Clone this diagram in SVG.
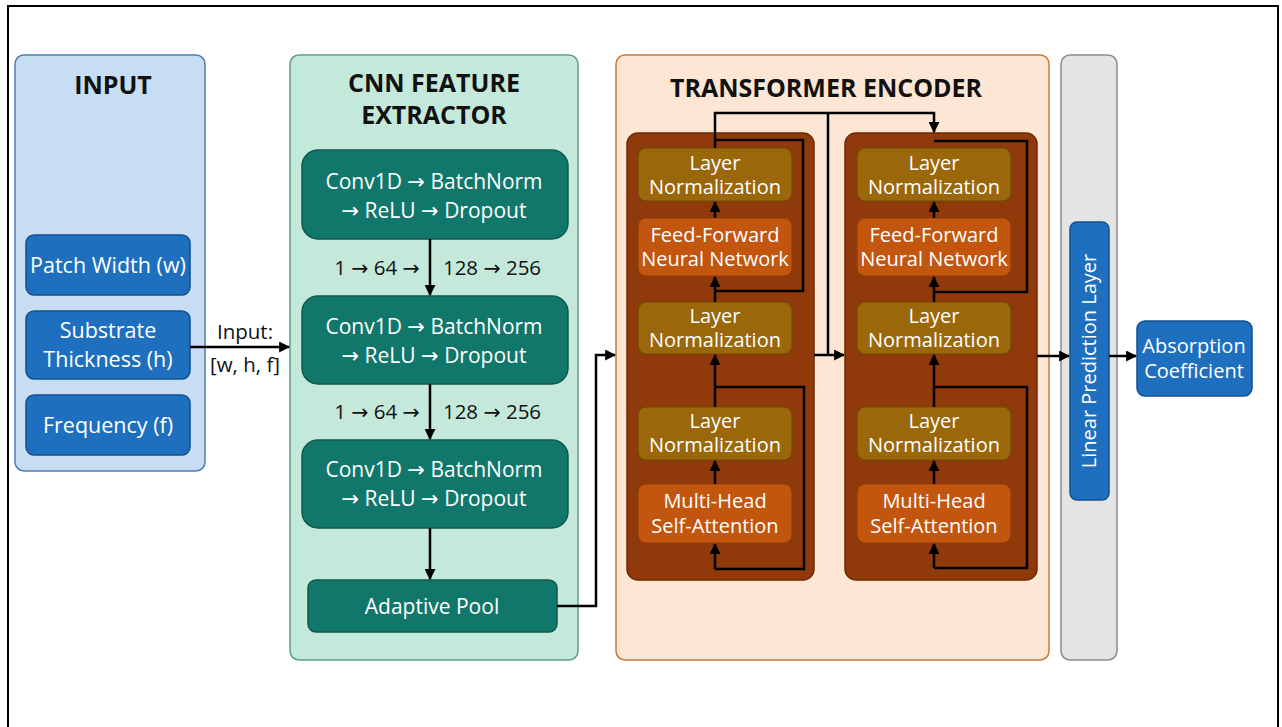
<svg xmlns="http://www.w3.org/2000/svg" width="1282" height="727" viewBox="0 0 1282 727">
<defs>
<marker id="ah" viewBox="0 0 10 10" refX="9" refY="5" markerWidth="11" markerHeight="11" markerUnits="userSpaceOnUse" orient="auto">
<path d="M0,0 L10,5 L0,10 z" fill="#000"/>
</marker>
</defs>
<style>
text{font-family:"Open Sans","Noto Sans","DejaVu Sans",sans-serif;text-anchor:middle;}
.title{font-size:25px;font-weight:bold;fill:#111;}
.lbl{font-size:20px;fill:#fff;}
.lb{font-size:21.5px;fill:#fff;}
.lt{font-size:21px;fill:#fff;}
.blk{font-size:20.5px;fill:#111;}
.panelIn{fill:#c7ddf3;stroke:#4d7db3;stroke-width:1.5;}
.panelCnn{fill:#c4e9db;stroke:#5b9f88;stroke-width:1.5;}
.panelTr{fill:#fde6d3;stroke:#c77a3c;stroke-width:1.5;}
.panelGr{fill:#e4e4e4;stroke:#8c8c8c;stroke-width:1.5;}
.blue{fill:#1f6fbf;stroke:#12508f;stroke-width:1.5;}
.teal{fill:#12776b;stroke:#0b5a50;stroke-width:1.5;}
.enc{fill:#90390a;stroke:#6e2a05;stroke-width:1.5;}
.ln{fill:#9a670b;stroke:#6f4a08;stroke-width:1.2;}
.org{fill:#c2560f;stroke:#8f3c08;stroke-width:1.2;}
.c{fill:none;stroke:#000;stroke-width:2.5;}
</style>
<rect x="8" y="6" width="1270" height="740" fill="#fff" stroke="#000" stroke-width="2"/>

<g id="panel-input">
<rect class="panelIn" x="15" y="55" width="190" height="416" rx="9"/>
<text class="title" x="113" y="94">INPUT</text>
</g>
<g id="node-patch-width">
<rect class="blue" x="26" y="235" width="164" height="60" rx="8"/>
<text class="lb" x="108" y="273">Patch Width (w)</text>
</g>
<g id="node-substrate">
<rect class="blue" x="26" y="311" width="164" height="68" rx="8"/>
<text class="lb" x="108" y="338">Substrate</text>
<text class="lb" x="108" y="367">Thickness (h)</text>
</g>
<g id="node-frequency">
<rect class="blue" x="26" y="395" width="164" height="60" rx="8"/>
<text class="lb" x="108" y="433">Frequency (f)</text>
</g>

<g id="panel-cnn">
<rect class="panelCnn" x="290" y="55" width="288" height="605" rx="9"/>
<text class="title" x="434" y="92">CNN FEATURE</text>
<text class="title" x="434" y="124">EXTRACTOR</text>
</g>
<g id="node-conv1">
<rect class="teal" x="302" y="150" width="266" height="89" rx="16"/>
<text class="lt" x="434" y="189">Conv1D → BatchNorm</text>
<text class="lt" x="434" y="218">→ ReLU → Dropout</text>
</g>
<g id="node-conv2">
<rect class="teal" x="302" y="296" width="266" height="88" rx="16"/>
<text class="lt" x="434" y="334">Conv1D → BatchNorm</text>
<text class="lt" x="434" y="363">→ ReLU → Dropout</text>
</g>
<g id="node-conv3">
<rect class="teal" x="302" y="440" width="266" height="88" rx="16"/>
<text class="lt" x="434" y="477">Conv1D → BatchNorm</text>
<text class="lt" x="434" y="506">→ ReLU → Dropout</text>
</g>
<g id="node-pool">
<rect class="teal" x="308" y="580" width="249" height="52" rx="8"/>
<text class="lt" x="432" y="614">Adaptive Pool</text>
</g>

<g id="panel-transformer">
<rect class="panelTr" x="616" y="55" width="433" height="605" rx="9"/>
<text class="title" x="826" y="97">TRANSFORMER ENCODER</text>
</g>
<g id="encoder-1">
<rect class="enc" x="627" y="133" width="187" height="447" rx="11"/>
</g>
<g id="enc1-ln-top">
<rect class="ln" x="638" y="148" width="154" height="53" rx="8"/>
<text class="lbl" x="715" y="170">Layer</text>
<text class="lbl" x="715" y="194">Normalization</text>
</g>
<g id="enc1-ffn">
<rect class="org" x="638" y="218" width="154" height="58" rx="8"/>
<text class="lbl" x="715" y="242">Feed-Forward</text>
<text class="lbl" x="715" y="266">Neural Network</text>
</g>
<g id="enc1-ln-mid">
<rect class="ln" x="638" y="302" width="154" height="52" rx="8"/>
<text class="lbl" x="715" y="323">Layer</text>
<text class="lbl" x="715" y="347">Normalization</text>
</g>
<g id="enc1-ln-low">
<rect class="ln" x="638" y="407" width="154" height="53" rx="8"/>
<text class="lbl" x="715" y="428">Layer</text>
<text class="lbl" x="715" y="452">Normalization</text>
</g>
<g id="enc1-mhsa">
<rect class="org" x="638" y="484" width="154" height="59" rx="8"/>
<text class="lbl" x="715" y="508">Multi-Head</text>
<text class="lbl" x="715" y="533">Self-Attention</text>
</g>

<g id="encoder-2">
<rect class="enc" x="845" y="133" width="192" height="447" rx="11"/>
</g>
<g id="enc2-ln-top">
<rect class="ln" x="857" y="148" width="154" height="53" rx="8"/>
<text class="lbl" x="934" y="170">Layer</text>
<text class="lbl" x="934" y="194">Normalization</text>
</g>
<g id="enc2-ffn">
<rect class="org" x="857" y="218" width="154" height="58" rx="8"/>
<text class="lbl" x="934" y="242">Feed-Forward</text>
<text class="lbl" x="934" y="266">Neural Network</text>
</g>
<g id="enc2-ln-mid">
<rect class="ln" x="857" y="302" width="154" height="52" rx="8"/>
<text class="lbl" x="934" y="323">Layer</text>
<text class="lbl" x="934" y="347">Normalization</text>
</g>
<g id="enc2-ln-low">
<rect class="ln" x="857" y="407" width="154" height="53" rx="8"/>
<text class="lbl" x="934" y="428">Layer</text>
<text class="lbl" x="934" y="452">Normalization</text>
</g>
<g id="enc2-mhsa">
<rect class="org" x="857" y="484" width="154" height="59" rx="8"/>
<text class="lbl" x="934" y="508">Multi-Head</text>
<text class="lbl" x="934" y="533">Self-Attention</text>
</g>

<g id="panel-linear">
<rect class="panelGr" x="1061" y="55" width="56" height="605" rx="9"/>
</g>
<g id="node-linear">
<rect class="blue" x="1070" y="222" width="39" height="278" rx="7"/>
<text class="lbl" transform="translate(1096 361) rotate(-90)" x="0" y="0">Linear Prediction Layer</text>
</g>
<g id="node-absorption">
<rect class="blue" x="1137" y="321" width="115" height="75" rx="8"/>
<text class="lbl" x="1194" y="353">Absorption</text>
<text class="lbl" x="1194" y="378">Coefficient</text>
</g>

<g id="connectors">
<path class="c" d="M190,347 H289" marker-end="url(#ah)"/>
<text class="blk" x="245" y="339">Input:</text>
<text class="blk" x="245" y="372">[w, h, f]</text>

<path class="c" d="M430,239 V295" marker-end="url(#ah)"/>
<text class="blk" x="377" y="275">1 → 64 →</text>
<text class="blk" x="492" y="275">128 → 256</text>
<path class="c" d="M430,384 V439" marker-end="url(#ah)"/>
<text class="blk" x="377" y="419">1 → 64 →</text>
<text class="blk" x="492" y="419">128 → 256</text>
<path class="c" d="M430,528 V579" marker-end="url(#ah)"/>

<path class="c" d="M557,606 H596 V355 H615" marker-end="url(#ah)"/>

<path class="c" d="M715,569 V544" marker-end="url(#ah)"/>
<path class="c" d="M715,569 H804 V387 H715"/>
<path class="c" d="M715,484 V461" marker-end="url(#ah)"/>
<path class="c" d="M715,407 V355" marker-end="url(#ah)"/>
<path class="c" d="M715,302 V277" marker-end="url(#ah)"/>
<path class="c" d="M715,291 H803 V140 H715"/>
<path class="c" d="M715,218 V202" marker-end="url(#ah)"/>
<path class="c" d="M715,148 V113 H934 V132" marker-end="url(#ah)"/>
<path class="c" d="M828,113 V355"/>
<path class="c" d="M814,355 H844" marker-end="url(#ah)"/>

<path class="c" d="M934,568 V544" marker-end="url(#ah)"/>
<path class="c" d="M934,568 H1027 V387 H934"/>
<path class="c" d="M934,484 V461" marker-end="url(#ah)"/>
<path class="c" d="M934,407 V355" marker-end="url(#ah)"/>
<path class="c" d="M934,302 V277" marker-end="url(#ah)"/>
<path class="c" d="M934,292 H1027 V141 H934"/>
<path class="c" d="M934,218 V202" marker-end="url(#ah)"/>

<path class="c" d="M1037,356 H1069" marker-end="url(#ah)"/>
<path class="c" d="M1109,356 H1136" marker-end="url(#ah)"/>
</g>
</svg>
